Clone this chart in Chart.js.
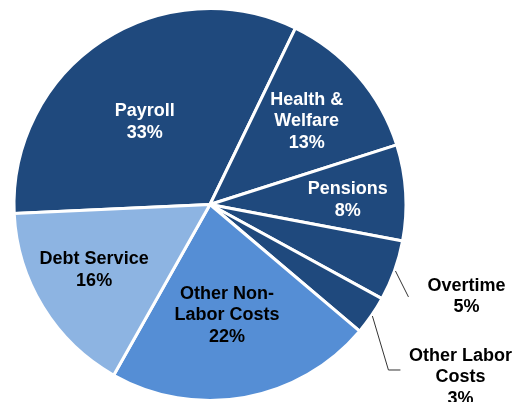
<!DOCTYPE html>
<html>
<head>
<meta charset="utf-8">
<script src="https://cdn.jsdelivr.net/npm/chart.js@4.4.1/dist/chart.umd.min.js"></script>
<style>
  html, body { margin: 0; padding: 0; background: #fff; }
  #wrap { width: 526px; height: 402px; position: relative; }
</style>
</head>
<body>
<div id="wrap"><canvas id="budgetChart" width="526" height="402"></canvas></div>
<script>
// Budget breakdown by category (percent)
const categories = [
  ['Payroll'],
  ['Health &', 'Welfare'],
  ['Pensions'],
  ['Overtime'],
  ['Other Labor', 'Costs'],
  ['Other Non-', 'Labor Costs'],
  ['Debt Service']
];
const shares = [32.9, 12.9, 7.9, 5.0, 3.2, 22.0, 16.1];
const pctLabels = ['33%', '13%', '8%', '5%', '3%', '22%', '16%'];

const DARK = '#1F497D', MID = '#558ED5', LIGHT = '#8DB4E2';
const sliceColors = [DARK, DARK, DARK, DARK, DARK, MID, LIGHT];

// where each label sits: fraction of radius along mid angle, plus nudge
const labelPos = [
  { f: 0.54, dx: -7, dy: 6, color: '#fff' },
  { f: 0.68, dx: -4, dy: 4, color: '#fff' },
  { f: 0.72, dx: -3, dy: 4, color: '#fff' },
  { f: 1.39, dx: 0, dy: 0, color: '#000', leader: 'straight' },
  { f: 1.55, dx: 0, dy: 1, color: '#000', leader: 'elbow' },
  { f: 0.58, dx: -3, dy: -1, color: '#000' },
  { f: 0.67, dx: -4, dy: -3, color: '#000' }
];

const sliceLabels = {
  id: 'sliceLabels',
  afterDatasetsDraw(chart) {
    const ctx = chart.ctx;
    const arcs = chart.getDatasetMeta(0).data;
    ctx.save();
    ctx.font = 'bold 18px "Liberation Sans", Arial, sans-serif';
    ctx.textAlign = 'center';
    ctx.textBaseline = 'middle';
    arcs.forEach((arc, i) => {
      const p = arc.getProps(['x', 'y', 'startAngle', 'endAngle', 'outerRadius'], true);
      const mid = (p.startAngle + p.endAngle) / 2;
      const cfg = labelPos[i];
      const lx = p.x + Math.cos(mid) * p.outerRadius * cfg.f + cfg.dx;
      const ly = p.y + Math.sin(mid) * p.outerRadius * cfg.f + cfg.dy;
      const lines = categories[i].concat([pctLabels[i]]);
      const lh = 21.5;
      const top = ly - (lines.length - 1) * lh / 2;

      if (cfg.leader) {
        const sx = p.x + Math.cos(mid) * (p.outerRadius + 1);
        const sy = p.y + Math.sin(mid) * (p.outerRadius + 1);
        ctx.strokeStyle = '#333';
        ctx.lineWidth = 1;
        ctx.beginPath();
        ctx.moveTo(sx, sy);
        if (cfg.leader === 'straight') {
          ctx.lineTo(lx - 58, ly + 0.5);
        } else {
          ctx.lineTo(lx - 72, ly - 7.5);
          ctx.lineTo(lx - 60, ly - 7.5);
        }
        ctx.stroke();
      }

      ctx.fillStyle = cfg.color;
      lines.forEach((t, k) => ctx.fillText(t, lx, top + k * lh));
    });
    ctx.restore();
  }
};

const ctx = document.getElementById('budgetChart').getContext('2d');
const budgetChart = new Chart(ctx, {
  type: 'pie',
  data: {
    labels: categories.map(c => c.join(' ')),
    datasets: [{
      data: shares,
      backgroundColor: sliceColors,
      borderColor: '#fff',
      borderWidth: 3
    }]
  },
  options: {
    responsive: false,
    animation: false,
    rotation: -92.6,
    layout: { padding: { left: 12, top: 7, right: 118, bottom: 0 } },
    plugins: {
      legend: { display: false },
      tooltip: { enabled: false }
    }
  },
  plugins: [sliceLabels]
});
</script>
</body>
</html>
